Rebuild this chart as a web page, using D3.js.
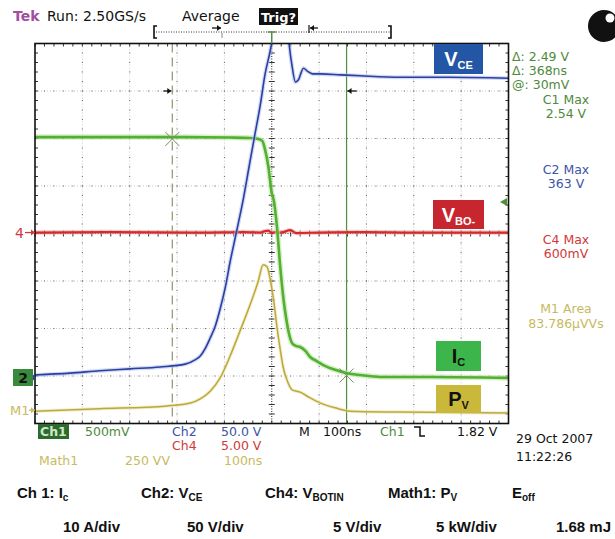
<!DOCTYPE html>
<html><head><meta charset="utf-8">
<script src="https://cdn.jsdelivr.net/npm/d3@7"></script>
<style>body{margin:0;background:#fff}svg{display:block}</style>
</head><body>
<svg id="c" width="615" height="539"></svg>
<script>
// ---------- DATA ----------
// time in ns across the 10-division screen (100 ns/div)
const ch2Time = [0,74,137,201,264,317,338,349,359,370,381,391,402,412,425,440,452,463,476,486,495,501,510,522,533,541,550,556,567,575,586,603,645,687,772,877,1000];
const ch2Vce  = [2.5,4.5,7,9,11,14,18.5,22.5,30,41.5,54.5,72,95,121.5,152,188,221.5,252,287.5,319.5,339.5,353,358,363,360.5,334,311,313,325.5,322.5,319.5,319.5,318.5,317.5,316,316,315]; // V
const ch1Time = [0,137,290,412,455,471,480,486,493,500,504,511,518,525,531,536,543,552,560,571,581,594,609,634,659,687,729,835,1000];
const ch1Ic   = [50.8,50.8,50.8,50.7,50.6,50.4,50.0,48.1,44.5,39.0,37.6,31.9,23.4,16.5,12.3,9.6,7.4,6.8,6.6,5.8,4.5,3.7,2.8,1.8,1.1,0.7,0.3,0.3,0.1]; // A
const ch4Time = [0,150,350,440,476,486,493,500,507,520,539,552,600,700,800,900,1000];
const ch4Vbo  = [0,0.05,0,0.05,0,0.15,0.2,-0.05,0.05,0,0.25,-0.05,0,0.05,0,0,0]; // V
const m1Time  = [0,137,279,328,349,370,391,412,433,455,471,482,490,497,504,511,518,524,532,543,560,581,603,634,666,772,1000];
const m1Pv    = [-0.1,0.15,0.45,0.75,1.2,2.0,3.4,5.7,8.35,11.2,13.5,15.3,15.1,13.7,11.6,8.75,6.35,4.55,3.2,2.15,1.9,1.3,0.75,0.25,-0.1,-0.2,-0.3]; // kW

// channel settings: units per division and ground marker position (divisions from centre)
const chPerDiv   = {ch1:10, ch2:50, ch4:5, m1:5};
const chGround   = {ch1:-3.05, ch2:-3.03, ch4:0.02, m1:-3.72};
const cursorTimes = [290, 658];           // ns
const cursorIc    = [50.4, 0.6];          // A
const triggerTime = 500;

const readoutLines = [
  {t:"Δ: 2.49 V", c:"#4e8a3e", x:512, y:61, a:"start"},
  {t:"Δ: 368ns",  c:"#4e8a3e", x:512, y:75, a:"start"},
  {t:"@: 30mV",   c:"#4e8a3e", x:512, y:89, a:"start"},
  {t:"C1 Max",    c:"#4e8a3e", x:566, y:104, a:"middle"},
  {t:"2.54 V",    c:"#4e8a3e", x:566, y:118, a:"middle"},
  {t:"C2 Max",    c:"#3c54a6", x:566, y:174, a:"middle"},
  {t:"363 V",     c:"#3c54a6", x:566, y:188, a:"middle"},
  {t:"C4 Max",    c:"#d23838", x:566, y:244, a:"middle"},
  {t:"600mV",     c:"#d23838", x:566, y:258, a:"middle"},
  {t:"M1 Area",   c:"#c8ba60", x:566, y:313, a:"middle"},
  {t:"83.786µVVs",c:"#c8ba60", x:566, y:328, a:"middle"}
];

// ---------- LAYOUT ----------
const svg = d3.select("#c");
const P = {l:35, r:508.5, t:43.5, b:423.5};
const x = d3.scaleLinear().domain([0,1000]).range([P.l,P.r]);
const dv = d3.scaleLinear().domain([-4,4]).range([P.b,P.t]);
function chScale(k){ const pd=chPerDiv[k], g=chGround[k];
  return d3.scaleLinear().domain([(-4-g)*pd,(4-g)*pd]).range([P.b,P.t]); }
const y1=chScale("ch1"), y2=chScale("ch2"), y4=chScale("ch4"), ym=chScale("m1");

svg.append("rect").attr("width",615).attr("height",539).attr("fill","#fff");
const font = "'DejaVu Sans', Verdana, sans-serif";

// ---------- GRID ----------
const grid = svg.append("g");
const xTicks = x.ticks(10), yTicks = d3.range(-4,4.001,1);
const minorX = d3.range(0,1000.1,20), minorY = d3.range(-4,4.001,0.2);
xTicks.filter(t=>t>0&&t<1000&&t!==500).forEach(t=>{
  grid.append("line").attr("x1",x(t)).attr("x2",x(t)).attr("y1",P.t).attr("y2",P.b)
    .attr("stroke","#c8c8c8").attr("stroke-dasharray","1 2");
  minorY.forEach(v=>grid.append("rect").attr("x",x(t)-0.5).attr("y",dv(v)-0.5).attr("width",1).attr("height",1).attr("fill","#666"));
});
yTicks.filter(v=>v>-4&&v<4&&v!==0).forEach(v=>{
  grid.append("line").attr("y1",dv(v)).attr("y2",dv(v)).attr("x1",P.l).attr("x2",P.r)
    .attr("stroke","#c8c8c8").attr("stroke-dasharray","1 2");
  minorX.forEach(t=>grid.append("rect").attr("x",x(t)-0.5).attr("y",dv(v)-0.5).attr("width",1).attr("height",1).attr("fill","#666"));
});
// centre lines with minor ticks
grid.append("line").attr("x1",x(500)).attr("x2",x(500)).attr("y1",P.t).attr("y2",P.b).attr("stroke","#222").attr("stroke-dasharray","1 1.5");
grid.append("line").attr("y1",dv(0)).attr("y2",dv(0)).attr("x1",P.l).attr("x2",P.r).attr("stroke","#222").attr("stroke-dasharray","1 1.5");
minorY.forEach(v=>grid.append("line").attr("x1",x(500)-3).attr("x2",x(500)+3).attr("y1",dv(v)).attr("y2",dv(v)).attr("stroke","#333"));
minorX.forEach(t=>grid.append("line").attr("y1",dv(0)-3).attr("y2",dv(0)+3).attr("x1",x(t)).attr("x2",x(t)).attr("stroke","#333"));
// border ticks
minorX.forEach(t=>{
  grid.append("line").attr("x1",x(t)).attr("x2",x(t)).attr("y1",P.t).attr("y2",P.t+3).attr("stroke","#333");
  grid.append("line").attr("x1",x(t)).attr("x2",x(t)).attr("y1",P.b).attr("y2",P.b-3).attr("stroke","#333");
});
minorY.forEach(v=>{
  grid.append("line").attr("y1",dv(v)).attr("y2",dv(v)).attr("x1",P.l).attr("x2",P.l+3).attr("stroke","#333");
  grid.append("line").attr("y1",dv(v)).attr("y2",dv(v)).attr("x1",P.r).attr("x2",P.r-3).attr("stroke","#333");
});

// ---------- CURSORS ----------
svg.append("line").attr("x1",x(cursorTimes[0])).attr("x2",x(cursorTimes[0])).attr("y1",P.t).attr("y2",P.b)
  .attr("stroke","#9a9a78").attr("stroke-width",1.3).attr("stroke-dasharray","9 5");
svg.append("line").attr("x1",x(cursorTimes[1])).attr("x2",x(cursorTimes[1])).attr("y1",P.t).attr("y2",P.b)
  .attr("stroke","#4e9040").attr("stroke-width",1.2);

// ---------- TRACES ----------
svg.append("clipPath").attr("id","clip").append("rect").attr("x",P.l).attr("y",P.t).attr("width",P.r-P.l).attr("height",P.b-P.t);
const tr = svg.append("g").attr("clip-path","url(#clip)");
function trace(ts,vs,ys,col,halo,w,hw){
  const line=d3.line().x((d,i)=>x(ts[i])).y((d,i)=>ys(vs[i])).curve(d3.curveMonotoneX);
  tr.append("path").attr("d",line(vs)).attr("fill","none").attr("stroke",halo).attr("stroke-width",hw).attr("stroke-opacity",0.6).attr("stroke-linejoin","round");
  tr.append("path").attr("d",line(vs)).attr("fill","none").attr("stroke",col).attr("stroke-width",w).attr("stroke-linejoin","round");
}
trace(ch4Time,ch4Vbo,y4,"#d62a2a","#f2a8a8",2.2,4.5);
trace(m1Time,m1Pv,ym,"#bba93a","#ebe3b0",1.5,3.5);
trace(ch1Time,ch1Ic,y1,"#52b032","#bfe4a8",2.6,5.5);
trace(ch2Time,ch2Vce,y2,"#2b3f9e","#b0c0ee",1.6,4);

// cursor X marks
cursorTimes.forEach((t,i)=>{
  const cx=x(t), cy=y1(cursorIc[i]);
  svg.append("path").attr("d",`M${cx-7},${cy-7}L${cx+7},${cy+7}M${cx-7},${cy+7}L${cx+7},${cy-7}`).attr("stroke","#7a8a6a").attr("stroke-width",1);
});
// cursor arrows
function arrow(x1,x2,yy,col){
  svg.append("line").attr("x1",x1).attr("x2",x2).attr("y1",yy).attr("y2",yy).attr("stroke",col).attr("stroke-width",1.3);
  const d = x2>x1?1:-1;
  svg.append("path").attr("d",`M${x2},${yy}L${x2-4*d},${yy-3}L${x2-4*d},${yy+3}Z`).attr("fill",col);
}
arrow(x(cursorTimes[0])-9,x(cursorTimes[0])-1,dv(3),"#111");
arrow(x(cursorTimes[1])+10,x(cursorTimes[1])+1,dv(3),"#111");

// border
svg.append("rect").attr("x",P.l).attr("y",P.t).attr("width",P.r-P.l).attr("height",P.b-P.t).attr("fill","none").attr("stroke","#111").attr("stroke-width",1.6);

// ---------- LEFT / RIGHT MARKERS ----------
svg.append("rect").attr("x",13).attr("y",369).attr("width",20).attr("height",17).attr("fill","#3a8a3e");
svg.append("text").attr("x",23).attr("y",383).attr("text-anchor","middle").attr("font-family",font).attr("font-weight","bold").attr("font-size",14).attr("fill","#111").text("2");
svg.append("path").attr("d",`M33,${y2(0)-3}L36,${y2(0)}L33,${y2(0)+3}Z`).attr("fill","#2b3f9e");
svg.append("text").attr("x",15).attr("y",y4(0)+5).attr("font-family",font).attr("font-size",14).attr("fill","#d23838").text("4");
arrow(25,35,y4(0),"#d23838");
svg.append("text").attr("x",10).attr("y",ym(0)+5).attr("font-family",font).attr("font-size",13).attr("fill","#c8ba60").text("M1");
arrow(29,35,ym(0),"#c8ba60");
// trigger level arrow (right, inside)
svg.append("path").attr("d",`M500,202L507,198L507,206Z`).attr("fill","#4e9040");

// ---------- LABEL BOXES ----------
function box(bx,by,bw,bh,fill,main,sub,col){
  svg.append("rect").attr("x",bx).attr("y",by).attr("width",bw).attr("height",bh).attr("fill",fill);
  const t=svg.append("text").attr("x",bx+bw/2).attr("y",by+bh/2+7).attr("text-anchor","middle")
    .attr("font-family","'Liberation Sans', Arial, sans-serif").attr("font-weight","bold").attr("fill",col);
  t.append("tspan").attr("font-size",20).text(main);
  t.append("tspan").attr("font-size",11).attr("dy",3).text(sub);
}
box(434,44,49,30,"#2456a6","V","CE","#fff");
box(433,200,51,29,"#c7262e","V","BO-","#fff");
box(436,341,45,30,"#3cb54a","I","C","#111");
box(436,385,45,28,"#c9b83a","P","V","#111");

// ---------- TOP BAR ----------
svg.append("text").attr("x",13).attr("y",21).attr("font-family",font).attr("font-weight","bold").attr("font-size",14).attr("fill","#a0509e").text("Tek");
svg.append("text").attr("x",47).attr("y",21).attr("font-family",font).attr("font-size",14).attr("fill","#111").text("Run: 2.50GS/s");
svg.append("text").attr("x",182).attr("y",21).attr("font-family",font).attr("font-size",14).attr("fill","#111").text("Average");
svg.append("rect").attr("x",259).attr("y",8).attr("width",39).attr("height",17).attr("fill","#111");
svg.append("text").attr("x",278.5).attr("y",21.5).attr("text-anchor","middle").attr("font-family",font).attr("font-weight","bold").attr("font-size",13).attr("fill","#fff").text("Trig?");
svg.append("line").attr("x1",156).attr("x2",390).attr("y1",32).attr("y2",32).attr("stroke","#333").attr("stroke-dasharray","1 1.5");
svg.append("path").attr("d","M157,26L154,26L154,38L157,38").attr("fill","none").attr("stroke","#111").attr("stroke-width",1.6);
svg.append("path").attr("d","M388,26L391,26L391,38L388,38").attr("fill","none").attr("stroke","#111").attr("stroke-width",1.6);
arrow(212,221,28,"#111");
svg.append("line").attr("x1",222).attr("x2",222).attr("y1",33).attr("y2",38).attr("stroke","#888");
svg.append("line").attr("x1",309).attr("x2",309).attr("y1",25).attr("y2",33).attr("stroke","#111").attr("stroke-width",1.2);
arrow(318,310,28,"#111");
svg.append("path").attr("d",`M${x(triggerTime)-4},32L${x(triggerTime)+4},32M${x(triggerTime)},32L${x(triggerTime)},${P.t}`).attr("stroke","#4e9040").attr("stroke-width",1.5);
// decorative knob
svg.append("circle").attr("cx",604).attr("cy",26).attr("r",16).attr("fill","#111");
svg.append("circle").attr("cx",610).attr("cy",18).attr("r",4.5).attr("fill","#fff");

// ---------- RIGHT READOUTS ----------
readoutLines.forEach(r=>svg.append("text").attr("x",r.x).attr("y",r.y).attr("text-anchor",r.a)
  .attr("font-family",font).attr("font-size",12.5).attr("fill",r.c).text(r.t));

// ---------- BOTTOM STATUS ----------
function st(tx,ty,t,c,extra){ const e=svg.append("text").attr("x",tx).attr("y",ty).attr("font-family",font).attr("font-size",12.5).attr("fill",c).text(t); if(extra) e.attr("font-weight",extra); return e;}
svg.append("rect").attr("x",38).attr("y",424).attr("width",31).attr("height",15).attr("fill","#2d6a2d");
st(40,436,"Ch1","#cfe8c8","bold");
st(85,436,"500mV","#4e8a3e");
st(172,436,"Ch2","#3c54a6");
st(221,436,"50.0 V","#3c54a6");
st(299,436,"M","#111");
st(323,436,"100ns","#111");
st(380,436,"Ch1","#4e8a3e");
svg.append("path").attr("d","M414,427L420,427L420,436L425,436").attr("fill","none").attr("stroke","#111").attr("stroke-width",1.5);
st(457,436,"1.82 V","#111");
st(172,450,"Ch4","#d23838");
st(221,450,"5.00 V","#d23838");
st(39,465,"Math1","#c8ba60");
st(125,465,"250 VV","#c8ba60");
st(224,465,"100ns","#c8ba60");
st(516,443,"29 Oct 2007","#111");
st(516,461,"11:22:26","#111");

// ---------- LEGEND (below) ----------
const lf="'Liberation Sans', Arial, sans-serif";
function leg(tx,ty,main,sub){
  const t=svg.append("text").attr("x",tx).attr("y",ty).attr("font-family",lf).attr("font-weight","bold").attr("font-size",15).attr("fill","#111");
  t.append("tspan").text(main);
  if(sub) t.append("tspan").attr("font-size",10).attr("dy",3).text(sub);
}
leg(17,498,"Ch 1: I","c");
leg(141,498,"Ch2: V","CE");
leg(265,498,"Ch4: V","BOTIN");
leg(388,498,"Math1: P","V");
leg(512,498,"E","off");
leg(63,532,"10 A/div");
leg(187,532,"50 V/div");
leg(333,532,"5 V/div");
leg(436,532,"5 kW/div");
leg(556,532,"1.68 mJ");
</script>
</body></html>
